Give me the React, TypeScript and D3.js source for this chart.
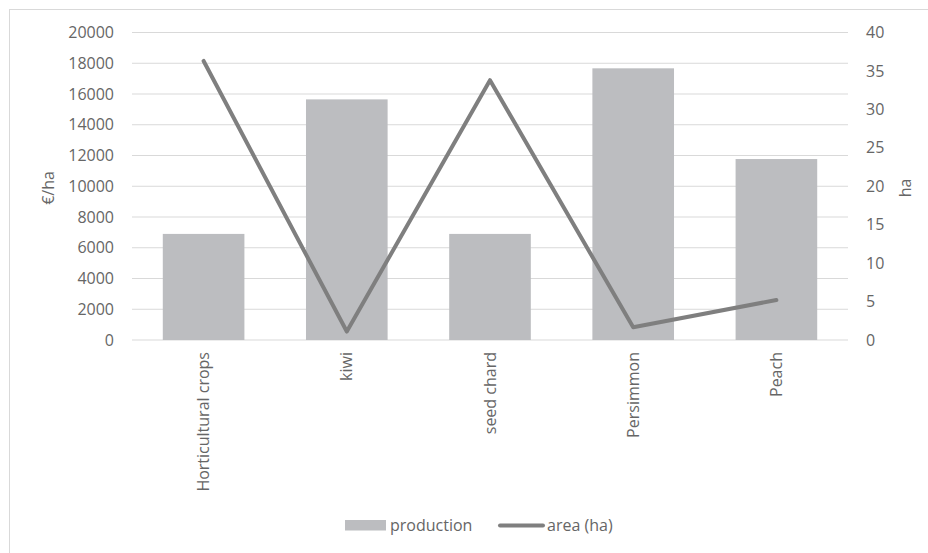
import React from "react";
import * as d3 from "d3";

const categories = ["Horticultural crops", "kiwi", "seed chard", "Persimmon", "Peach"];
const production = [6900, 15650, 6900, 17670, 11770];
const area = [36.3, 1.1, 33.8, 1.65, 5.2];
const leftTicks = [0, 2000, 4000, 6000, 8000, 10000, 12000, 14000, 16000, 18000, 20000];
const rightTicks = [0, 5, 10, 15, 20, 25, 30, 35, 40];

const W = 928;
const H = 553;
const FONT = "'Open Sans', sans-serif";
const TXT = "#666666";

export default function App() {
  const x = d3.scaleBand<string>().domain(categories).range([132, 848]).paddingInner(0.43).paddingOuter(0.215);
  const yL = d3.scaleLinear().domain([0, 20000]).range([340, 32.5]);
  const yR = d3.scaleLinear().domain([0, 40]).range([340, 32.5]);
  const cx = (c: string) => (x(c) ?? 0) + x.bandwidth() / 2;
  const line = d3
    .line<number>()
    .x((_, i) => cx(categories[i]))
    .y((d) => yR(d));

  return (
    <svg
      width={W}
      height={H}
      style={{ position: "absolute", left: 0, top: 0, background: "#fff" }}
      fontFamily={FONT}
    >
      <rect x={9.5} y={9.5} width={W} height={H} fill="#fff" stroke="#d9d9d9" strokeWidth={1} />
      {leftTicks.map((t) => (
        <line key={"g" + t} x1={132} x2={848} y1={yL(t)} y2={yL(t)} stroke="#d9d9d9" strokeWidth={1} />
      ))}
      {leftTicks.map((t) => (
        <text key={"l" + t} x={114} y={yL(t)} dy="0.35em" textAnchor="end" fontSize={16} fill={TXT}>
          {t}
        </text>
      ))}
      {rightTicks.map((t) => (
        <text key={"r" + t} x={866} y={yR(t)} dy="0.35em" textAnchor="start" fontSize={16} fill={TXT}>
          {t}
        </text>
      ))}
      {categories.map((c, i) => (
        <rect
          key={"b" + c}
          x={x(c)}
          y={yL(production[i])}
          width={x.bandwidth()}
          height={yL(0) - yL(production[i])}
          fill="#bcbdc0"
        />
      ))}
      <path d={line(area) ?? ""} fill="none" stroke="#7f7f7f" strokeWidth={4} strokeLinejoin="round" strokeLinecap="round" />
      {categories.map((c) => (
        <text
          key={"c" + c}
          transform={`translate(${cx(c)},352) rotate(-90)`}
          textAnchor="end"
          dy="0.35em"
          fontSize={16}
          fill={TXT}
        >
          {c}
        </text>
      ))}
      <text transform="translate(48,188) rotate(-90)" textAnchor="middle" dy="0.35em" fontSize={16} fill={TXT}>
        €/ha
      </text>
      <text transform="translate(905,188) rotate(-90)" textAnchor="middle" dy="0.35em" fontSize={16} fill={TXT}>
        ha
      </text>
      <rect x={345} y={520} width={41} height={10.5} fill="#bcbdc0" />
      <text x={390} y={525.5} dy="0.35em" fontSize={16} fill={TXT}>
        production
      </text>
      <line x1={500} x2={543} y1={525.5} y2={525.5} stroke="#7f7f7f" strokeWidth={4} strokeLinecap="round" />
      <text x={547} y={525.5} dy="0.35em" fontSize={16} fill={TXT}>
        area (ha)
      </text>
    </svg>
  );
}
